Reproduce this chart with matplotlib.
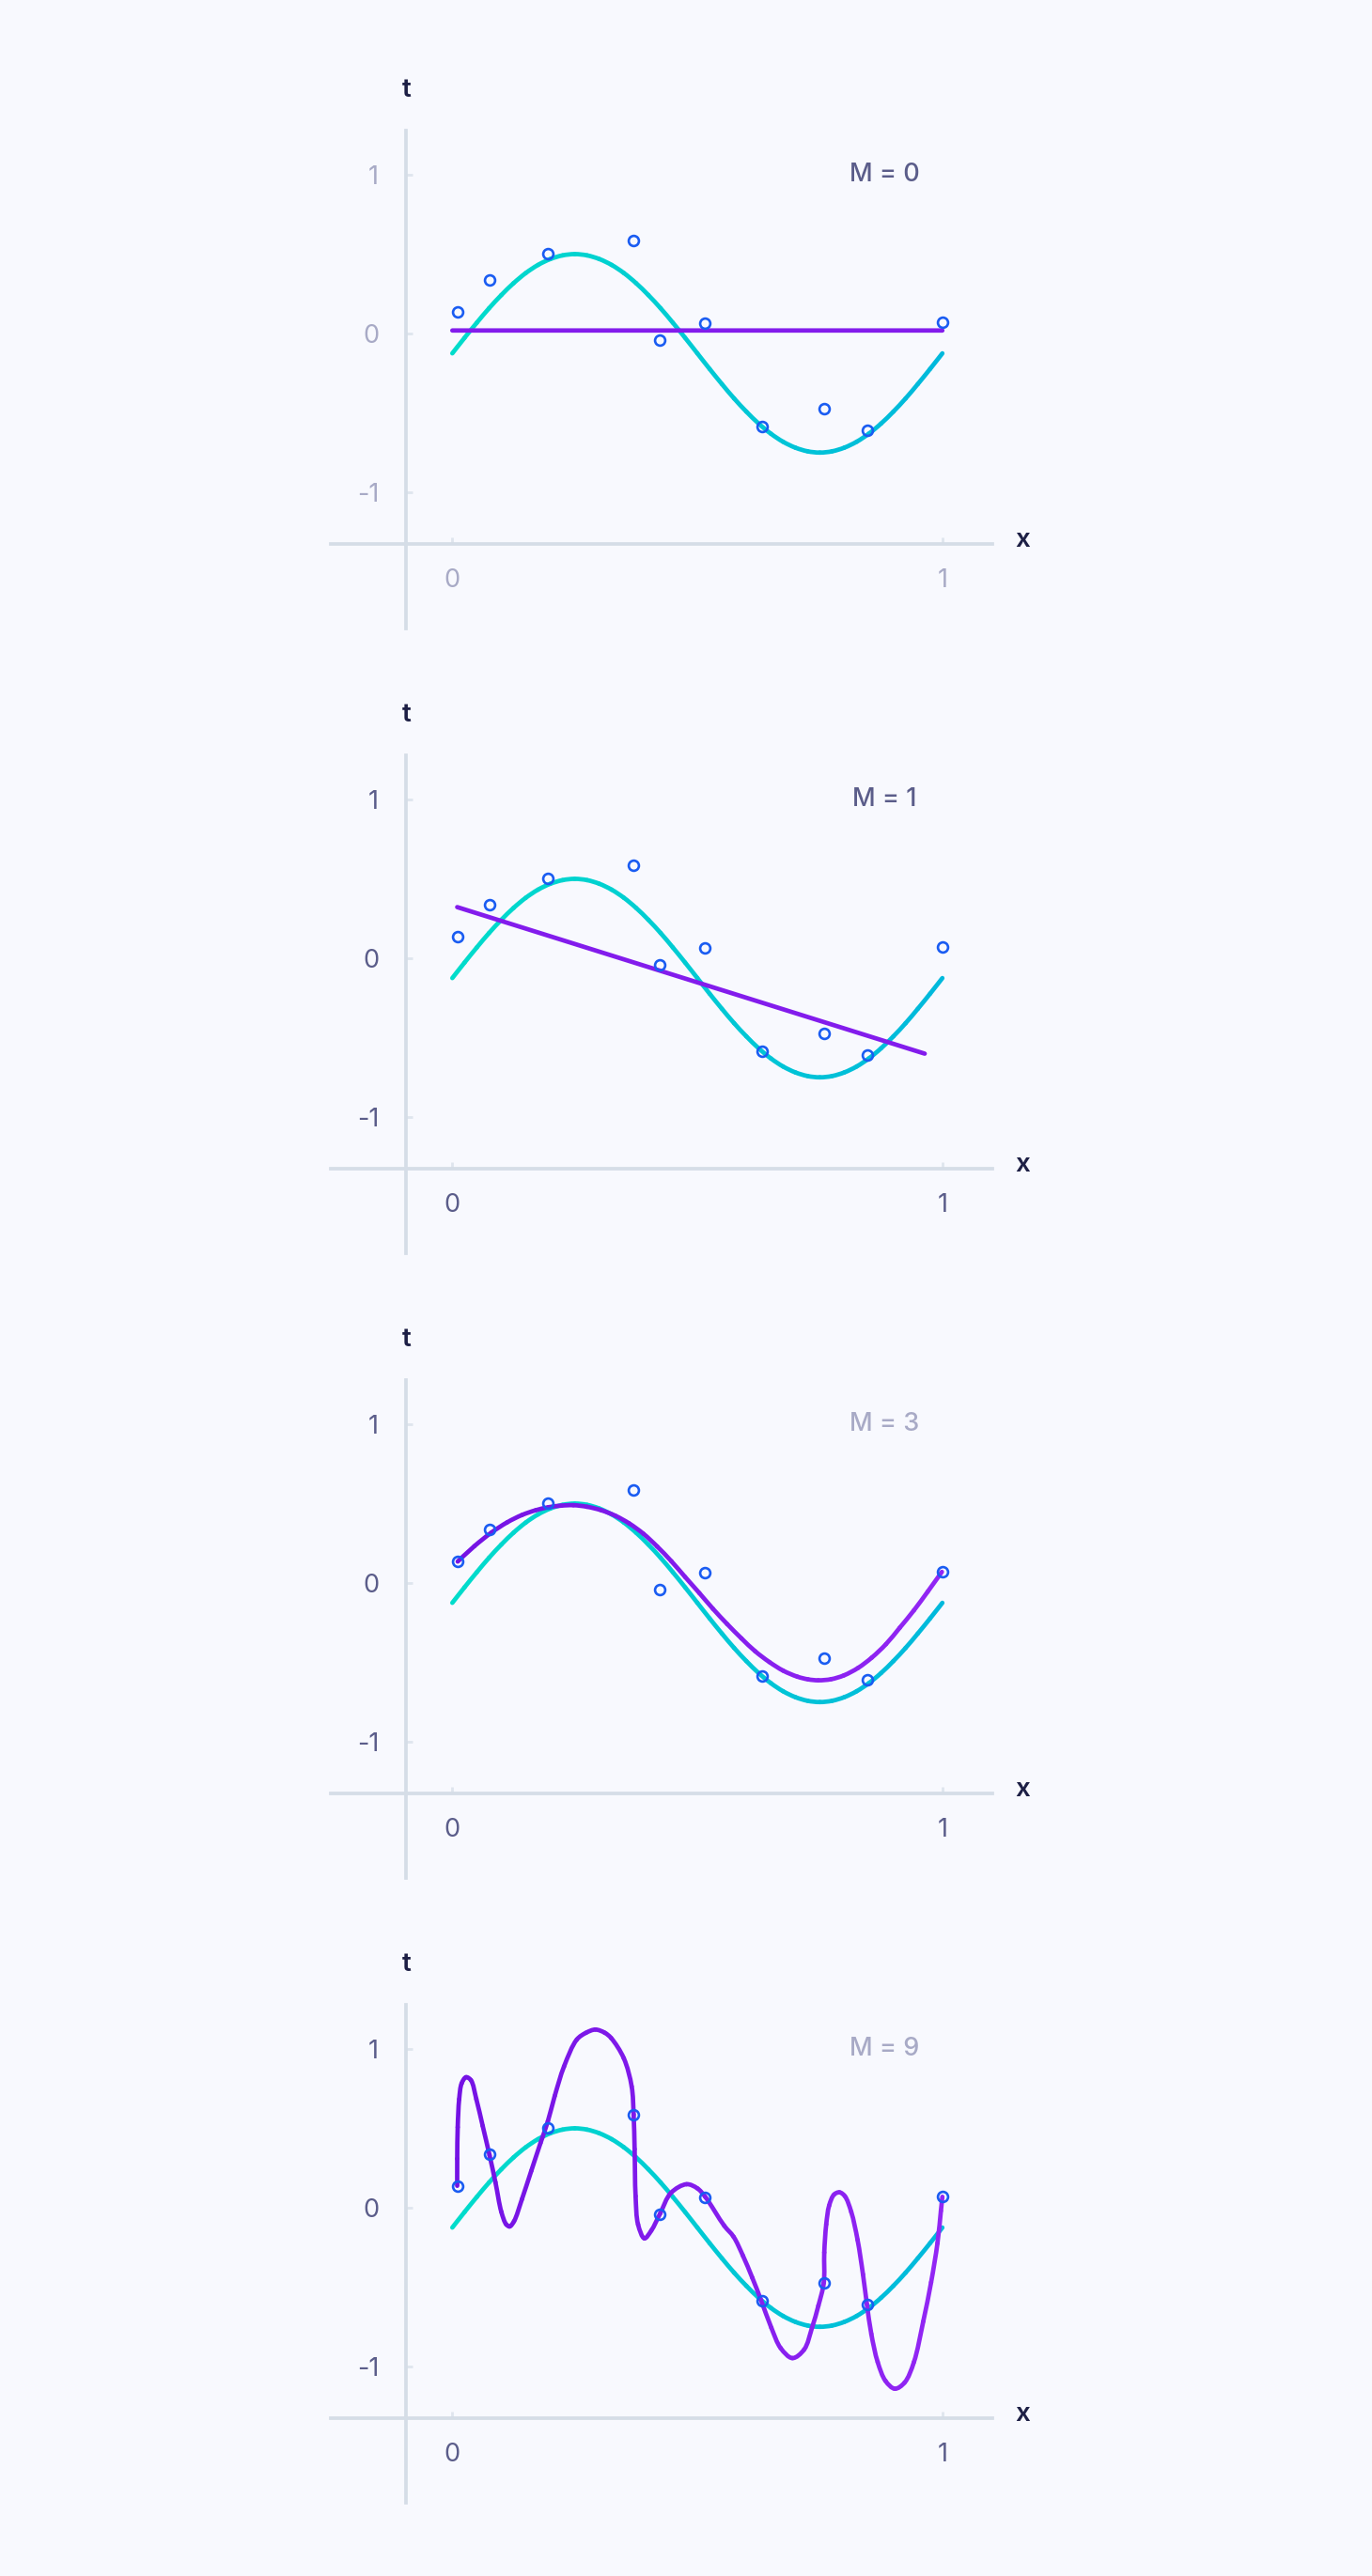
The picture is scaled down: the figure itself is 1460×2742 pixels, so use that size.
import numpy as np
import matplotlib
matplotlib.use("Agg")
import matplotlib.pyplot as plt
from matplotlib.path import Path
from matplotlib.patches import PathPatch
from matplotlib.colors import LinearSegmentedColormap

plt.rcParams['font.family'] = ['Inter', 'DejaVu Sans']
plt.rcParams['axes.unicode_minus'] = False

# observed points
data_x = [0.010, 0.076, 0.195, 0.370, 0.424, 0.516, 0.632, 0.758, 0.846, 1.000]
data_t = [0.135, 0.338, 0.500, 0.584, -0.040, 0.067, -0.583, -0.474, -0.610, 0.068]

# true curve
true_x = [0.000, 0.025, 0.050, 0.075, 0.100, 0.125, 0.150, 0.175, 0.200, 0.225,
          0.250, 0.275, 0.300, 0.325, 0.350, 0.375, 0.400, 0.425, 0.450, 0.475,
          0.500, 0.525, 0.550, 0.575, 0.600, 0.625, 0.650, 0.675, 0.700, 0.725,
          0.750, 0.775, 0.800, 0.825, 0.850, 0.875, 0.900, 0.925, 0.950, 0.975, 1.000]
true_t = [-0.125, -0.027, 0.068, 0.159, 0.242, 0.317, 0.381, 0.432, 0.469, 0.492,
          0.500, 0.492, 0.469, 0.432, 0.381, 0.317, 0.242, 0.159, 0.068, -0.027,
          -0.125, -0.223, -0.318, -0.409, -0.492, -0.567, -0.631, -0.682, -0.719, -0.742,
          -0.750, -0.742, -0.719, -0.682, -0.631, -0.567, -0.492, -0.409, -0.318, -0.223, -0.125]

# fitted curves
m0_x = [0.0, 1.0]
m0_t = [0.019, 0.019]

m1_x = [0.010, 0.964]
m1_t = [0.322, -0.601]

m3_x = [0.011, 0.045, 0.080, 0.112, 0.142, 0.170, 0.196, 0.222, 0.247, 0.275, 0.304,
        0.333, 0.361, 0.390, 0.418, 0.447, 0.475, 0.504, 0.532, 0.561, 0.590, 0.618,
        0.647, 0.675, 0.704, 0.726, 0.747, 0.773, 0.799, 0.828, 0.856, 0.885, 0.913,
        0.942, 0.970, 0.999]
m3_t = [0.135, 0.232, 0.318, 0.382, 0.428, 0.458, 0.477, 0.487, 0.490, 0.480, 0.458,
        0.423, 0.375, 0.310, 0.230, 0.137, 0.038, -0.063, -0.163, -0.259, -0.349, -0.430,
        -0.498, -0.552, -0.590, -0.607, -0.613, -0.606, -0.582, -0.535, -0.470, -0.385, -0.282,
        -0.172, -0.055, 0.070]

m9_x = [0.010, 0.010, 0.011, 0.014, 0.019, 0.028, 0.038, 0.049, 0.062, 0.076,
        0.088, 0.100, 0.110, 0.117, 0.126, 0.142, 0.161, 0.180, 0.195, 0.209,
        0.228, 0.254, 0.273, 0.292, 0.311, 0.324, 0.350, 0.366, 0.370, 0.372,
        0.374, 0.379, 0.392, 0.406, 0.424, 0.446, 0.478, 0.500, 0.516, 0.555,
        0.574, 0.593, 0.612, 0.630, 0.651, 0.670, 0.694, 0.718, 0.734, 0.747,
        0.758, 0.759, 0.763, 0.769, 0.779, 0.790, 0.801, 0.814, 0.827, 0.838,
        0.846, 0.855, 0.868, 0.884, 0.903, 0.923, 0.942, 0.961, 0.977, 0.990,
        0.997, 1.000]
m9_t = [0.138, 0.309, 0.507, 0.684, 0.783, 0.822, 0.803, 0.684, 0.515, 0.330,
        0.160, -0.026, -0.105, -0.118, -0.085, 0.053, 0.231, 0.408, 0.545, 0.704,
        0.890, 1.059, 1.102, 1.122, 1.102, 1.069, 0.941, 0.763, 0.586, 0.369,
        0.073, -0.105, -0.193, -0.144, -0.037, 0.093, 0.148, 0.122, 0.069, -0.114,
        -0.183, -0.302, -0.440, -0.582, -0.756, -0.884, -0.947, -0.893, -0.756, -0.617,
        -0.473, -0.282, -0.105, 0.014, 0.083, 0.097, 0.073, -0.026, -0.203, -0.420,
        -0.608, -0.795, -0.972, -1.091, -1.140, -1.101, -0.972, -0.716, -0.470, -0.223,
        -0.020, 0.069]

fits = [(m0_x, m0_t), (m1_x, m1_t), (m3_x, m3_t), (m9_x, m9_t)]
titles = ['M = 0', 'M = 1', 'M = 3', 'M = 9']

bg = '#f8f9fe'
dark = '#5b5d8a'
light = '#a8aac6'
navy = '#1d1f45'
tick_col = [light, dark, dark, dark]
title_col = [dark, dark, light, light]

W, H = 1460, 2742
XLIM = (-0.248, 1.102)
YLIM = (-1.858, 1.278)
SX = 704 / (XLIM[1] - XLIM[0])   # px per data unit
SY = 530 / (YLIM[1] - YLIM[0])


def bezier_segments(xs, ys, alpha=0.5):
    # centripetal catmull-rom (like d3.curveCatmullRom), in pixel space
    p = np.column_stack([np.asarray(xs) * SX, np.asarray(ys) * SY])
    n = len(p)
    out = []
    for k in range(n - 1):
        p1, p2 = p[k], p[k + 1]
        l12 = np.hypot(*(p2 - p1))
        c1, c2 = p1.copy(), p2.copy()
        if k > 0:
            p0 = p[k - 1]
            l01 = np.hypot(*(p1 - p0))
            a = 2 * l01 ** (2 * alpha) + 3 * l01 ** alpha * l12 ** alpha + l12 ** (2 * alpha)
            m = 3 * l01 ** alpha * (l01 ** alpha + l12 ** alpha)
            c1 = (p1 * a - p0 * l12 ** (2 * alpha) + p2 * l01 ** (2 * alpha)) / m
        if k < n - 2:
            p3 = p[k + 2]
            l23 = np.hypot(*(p3 - p2))
            b = 2 * l23 ** (2 * alpha) + 3 * l23 ** alpha * l12 ** alpha + l12 ** (2 * alpha)
            m = 3 * l23 ** alpha * (l23 ** alpha + l12 ** alpha)
            c2 = (p2 * b + p1 * l23 ** (2 * alpha) - p3 * l12 ** (2 * alpha)) / m
        seg = np.array([p1, c1, c2, p2]) / [SX, SY]
        out.append(seg)
    return out


def grad_curve(ax, xs, ys, c0, c1, lw):
    cmap = LinearSegmentedColormap.from_list('g', [c0, c1])
    for seg in bezier_segments(xs, ys):
        path = Path(seg, [Path.MOVETO, Path.CURVE4, Path.CURVE4, Path.CURVE4])
        col = cmap((seg[0, 0] + seg[3, 0]) / 2)
        ax.add_patch(PathPatch(path, fill=False, edgecolor=col, lw=lw,
                               capstyle='round', joinstyle='round', zorder=3))


fig = plt.figure(figsize=(W / 100, H / 100), dpi=100, facecolor=bg)

for i in range(4):
    top = 139 + 665 * i
    ax = fig.add_axes([352 / W, (H - top - 530) / H, 704 / W, 530 / H])
    ax.set_facecolor(bg)
    ax.set_xlim(*XLIM)
    ax.set_ylim(*YLIM)

    for s in ['top', 'right']:
        ax.spines[s].set_visible(False)
    ax.spines['left'].set_position(('data', -0.094))
    ax.spines['bottom'].set_position(('data', -1.325))
    for s in ['left', 'bottom']:
        ax.spines[s].set_color('#d5dde7')
        ax.spines[s].set_linewidth(2.7)

    ax.set_xticks([0, 1])
    ax.set_xticklabels(['0', '1'])
    ax.set_yticks([-1, 0, 1])
    ax.set_yticklabels(['-1', '0', '1'])
    ax.tick_params(direction='in', length=5, width=2, color='#dfe5ee',
                   labelsize=19.5, labelcolor=tick_col[i])
    ax.tick_params(axis='x', pad=19)
    ax.tick_params(axis='y', pad=21)

    grad_curve(ax, true_x, true_t, '#00dccb', '#00b9dc', 3.4)
    fx, ft = fits[i]
    grad_curve(ax, fx, ft, '#7412e4', '#9226f4', 3.4)

    ax.plot(data_x, data_t, 'o', ms=7.8, mfc='none', mec='#1a5cf2', mew=1.9, zorder=4)

    ax.text(0.882, 1.0, titles[i], fontsize=19.5, color=title_col[i],
            fontweight='medium', ha='center', va='center')
    ax.text(-0.094, 1.53, 't', fontsize=20, color=navy, fontweight='semibold',
            ha='center', va='center')
    ax.text(1.164, -1.30, 'x', fontsize=20, color=navy, fontweight='semibold',
            ha='center', va='center')

fig.savefig('out.png', dpi=100, facecolor=bg)
